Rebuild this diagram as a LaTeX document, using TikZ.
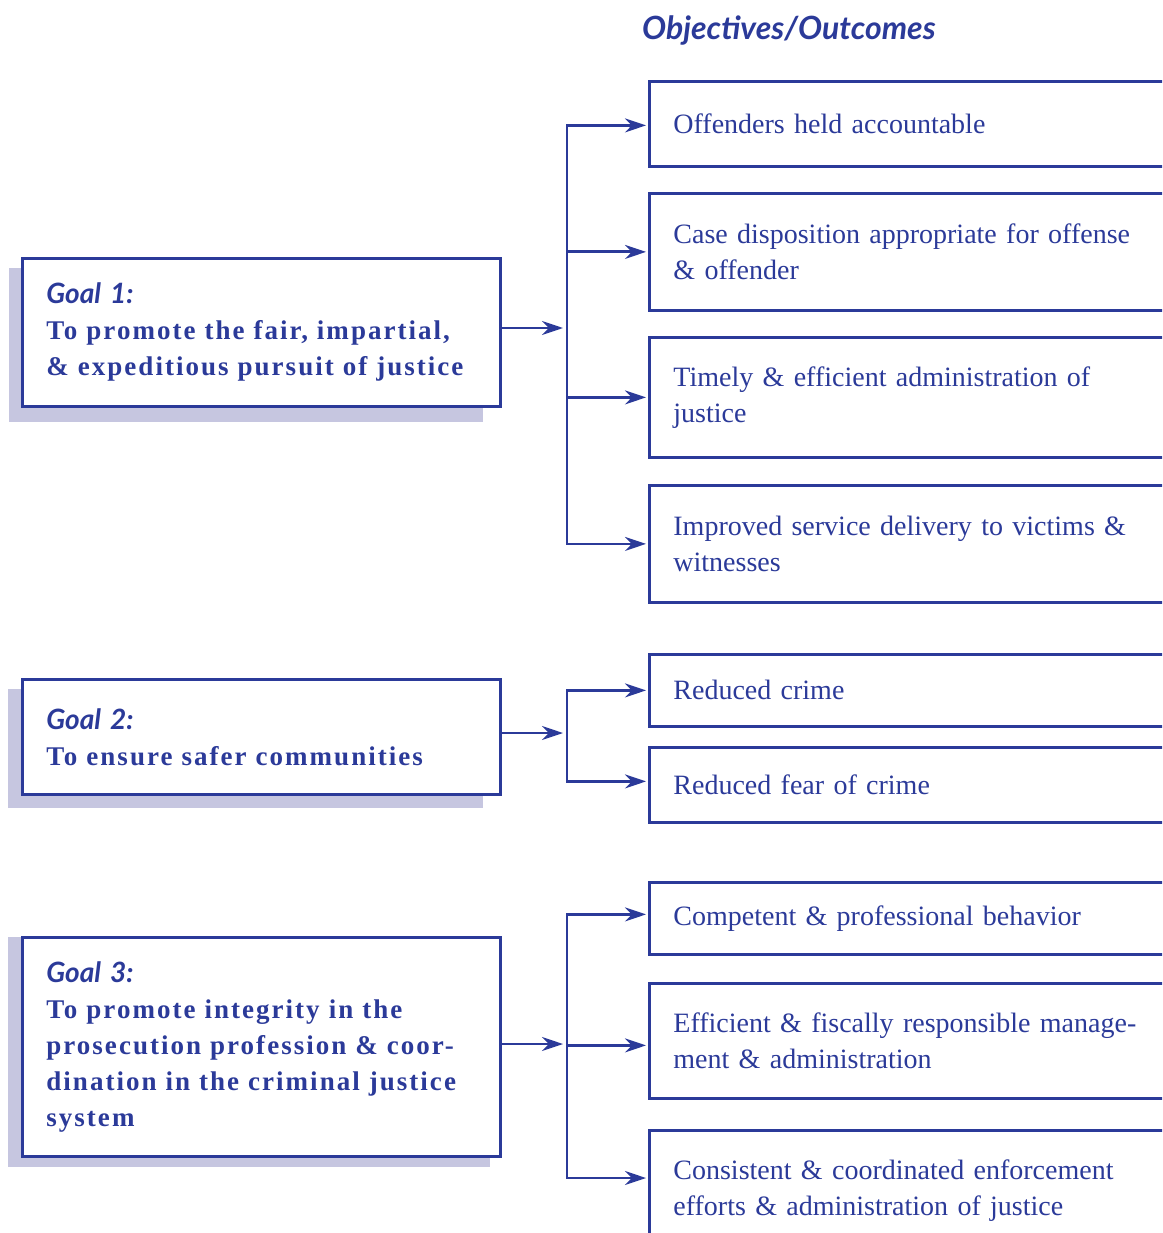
\documentclass[tikz,border=0pt]{standalone}
\usepackage{fontspec}
\setmainfont{Liberation Serif}
\newfontfamily\headfont{Lato}
\newfontfamily\goalfont{Liberation Serif}[LetterSpace=7.5]
\usetikzlibrary{arrows.meta}
\definecolor{myblue}{HTML}{2B3A99}
\definecolor{shade}{HTML}{C6C6E0}
\tikzset{
  objbox/.style={draw=myblue, line width=2.8pt, fill=white, anchor=north west,
    text width=560pt, align=left, inner xsep=24pt, inner ysep=0pt, text=myblue,
    font=\fontsize{28}{36}\selectfont},
  goalbox/.style={draw=myblue, line width=2.8pt, fill=white, anchor=north west,
    text width=430pt, align=left, inner xsep=24pt, inner ysep=0pt, text=myblue,
    font=\goalfont\fontsize{27}{36}\selectfont\bfseries},
  shadowbox/.style={fill=shade},
  conn/.style={draw=myblue, line width=2.8pt},
  arr/.style={conn, -{Stealth[length=21pt,width=14pt]}}
}
\newcommand{\goalhead}[1]{{\headfont\fontsize{28}{36}\selectfont\bfseries\itshape #1}}
\begin{document}
\begin{tikzpicture}[x=1pt,y=-1pt]
\useasboundingbox (0,0) rectangle (1162,1233);
\clip (0,0) rectangle (1162,1233);

\node[anchor=base west, text=myblue, inner sep=0pt,
  font=\headfont\fontsize{32}{36}\selectfont\bfseries\itshape] (title) at (642,40) {Objectives/Outcomes};

% shadows
\fill[shadowbox] (9,268) rectangle (483,422);
\fill[shadowbox] (8,689) rectangle (483,808);
\fill[shadowbox] (8,937) rectangle (490,1167);

% goal boxes
\node[goalbox, minimum height=148pt] (g1) at (21,257)
  {\goalhead{Goal 1:}\\To promote the fair, impartial,\\\& expeditious pursuit of justice};
\node[goalbox, minimum height=115pt] (g2) at (21,678)
  {\goalhead{Goal 2:}\\To ensure safer communities};
\node[goalbox, minimum height=219pt] (g3) at (21,936)
  {\goalhead{Goal 3:}\\To promote integrity in the\\prosecution profession \& coor-\\dination in the criminal justice\\system};

% objective boxes
\node[objbox, minimum height=85pt] (o1) at (648,80) {Offenders held accountable};
\node[objbox, minimum height=117pt] (o2) at (648,192) {Case disposition appropriate for offense\\\& offender};
\node[objbox, minimum height=120pt] (o3) at (648,336) {Timely \& efficient administration of\\justice};
\node[objbox, minimum height=117pt] (o4) at (648,484) {Improved service delivery to victims \&\\witnesses};
\node[objbox, minimum height=72pt] (o5) at (648,653) {Reduced crime};
\node[objbox, minimum height=75pt] (o6) at (648,746) {Reduced fear of crime};
\node[objbox, minimum height=72pt] (o7) at (648,881) {Competent \& professional behavior};
\node[objbox, minimum height=115pt] (o8) at (648,982) {Efficient \& fiscally responsible manage-\\ment \& administration};
\node[objbox, minimum height=120pt] (o9) at (648,1129) {Consistent \& coordinated enforcement\\efforts \& administration of justice};

% junctions
\coordinate (j1) at (567,328);
\coordinate (j2) at (567,733);
\coordinate (j3) at (567,1044);

% connectors goal 1
\draw[arr] (g1.east |- j1) -- ([xshift=-4pt]j1);
\draw[arr] (j1) |- ([xshift=-2pt,yshift=-1.5pt]o1.west);
\draw[arr] (j1) |- ([xshift=-2pt]o2.west);
\draw[arr] (j1) |- ([xshift=-2pt]o3.west);
\draw[arr] (j1) |- ([xshift=-2pt]o4.west);

% connectors goal 2
\draw[arr] (g2.east |- j2) -- ([xshift=-4pt]j2);
\draw[arr] (j2) |- ([xshift=-2pt]o5.west);
\draw[arr] (j2) |- ([xshift=-2pt,yshift=3.5pt]o6.west);

% connectors goal 3
\draw[arr] (g3.east |- j3) -- ([xshift=-4pt]j3);
\draw[arr] (j3) |- ([xshift=-2pt,yshift=4pt]o7.west);
\draw[arr] (j3) |- ([xshift=-2pt,yshift=-4.5pt]o8.west);
\draw[arr] (j3) |- ([xshift=-2pt]o9.west |- 0,1178);
\end{tikzpicture}
\end{document}
